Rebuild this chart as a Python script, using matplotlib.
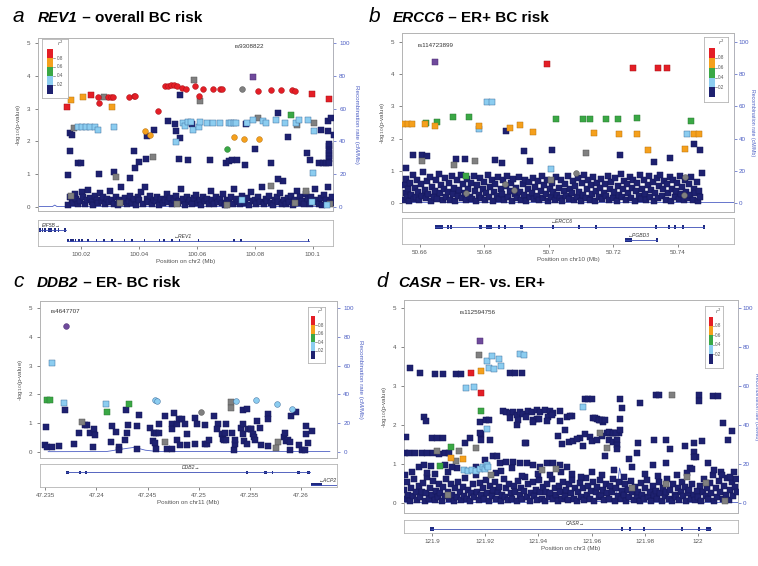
import matplotlib.pyplot as plt
from matplotlib.patches import Rectangle

plt.rcParams['font.family'] = ['Liberation Sans', 'DejaVu Sans']

NAVY = '#1e2170'
LBLUE = '#8ccdf0'
GREEN = '#3aa845'
ORANGE = '#f5a01c'
RED = '#e41e26'
GREY = '#808080'
PURPLE = '#6f4a9c'
REC = '#4d5fc4'
FRAME = '#b4b4b4'
TXT = '#555555'
EDGE = {NAVY: '#14165a', LBLUE: '#3f6f9f', GREEN: '#2a7a33', ORANGE: '#b87310',
        RED: '#a81218', GREY: '#555555', PURPLE: '#4a2d70'}

LD_BREAKS = ['0.2', '0.4', '0.6', '0.8']

# ---------------- panel a : REV1 (positions in Mb, -log10 p) ----------------
a_red_sq = [(100.0152, 3.05), (100.0232, 3.40), (100.0997, 3.45), (100.1055, 3.28)]
a_red_ci = [(100.0257, 3.35), (100.0260, 3.17), (100.0292, 3.35), (100.0301, 3.35), (100.0310, 3.35),
            (100.0365, 3.35), (100.0381, 3.37), (100.0387, 3.37), (100.0466, 2.94), (100.0489, 3.68),
            (100.0499, 3.70), (100.0509, 3.73), (100.0521, 3.71), (100.0532, 3.68), (100.0547, 3.63),
            (100.0562, 3.60), (100.0594, 3.70), (100.0606, 3.37), (100.0622, 3.60), (100.0656, 3.60),
            (100.0679, 3.60), (100.0687, 3.61), (100.0809, 3.54), (100.0857, 3.58), (100.0891, 3.58),
            (100.0928, 3.58), (100.0940, 3.55)]
a_orange_sq = [(100.0164, 3.26), (100.0205, 3.35), (100.0307, 3.05)]
a_orange_ci = [(100.0420, 2.31), (100.0438, 2.20), (100.0728, 2.12), (100.0762, 2.07), (100.0815, 2.07)]
a_green_ci = [(100.0703, 1.78)]
a_green_sq = [(100.0925, 2.80)]
a_lblue_sq = [(100.0190, 2.44), (100.0201, 2.44), (100.0215, 2.44), (100.0230, 2.44), (100.0247, 2.44),
              (100.0258, 2.34), (100.0314, 2.44), (100.0528, 1.98), (100.0553, 2.56), (100.0559, 2.46),
              (100.0570, 2.58), (100.0579, 2.58), (100.0587, 2.36), (100.0607, 2.43), (100.0609, 2.58),
              (100.0633, 2.56), (100.0656, 2.55), (100.0679, 2.55), (100.0711, 2.55), (100.0719, 2.55),
              (100.0727, 2.55), (100.0736, 2.55), (100.0773, 2.55), (100.0794, 2.66), (100.0828, 2.61),
              (100.0840, 2.55), (100.0874, 2.65), (100.0904, 2.55), (100.0943, 2.56), (100.0954, 2.64),
              (100.0983, 2.66), (100.1002, 1.04), (100.1006, 2.31), (100.0755, 0.20), (100.0998, 0.15),
              (100.1050, 0.06)]
a_grey_sq = [(100.0175, 2.40), (100.0280, 3.35), (100.0591, 3.88), (100.0610, 3.24), (100.0447, 1.52),
             (100.0320, 0.93), (100.0811, 2.71), (100.0946, 2.49), (100.1006, 2.57), (100.0857, 0.65),
             (100.0977, 0.48), (100.0165, 0.33), (100.0335, 0.12), (100.0530, 0.10), (100.0705, 0.05),
             (100.0940, 0.12), (100.1060, 0.08)]
a_grey_ci = [(100.0755, 3.60)]
a_purple_sq = [(100.0794, 3.96)]
a_navy_sq = [(100.0161, 1.70), (100.0155, 0.99), (100.0161, 2.26), (100.0166, 2.21), (100.0189, 1.34),
             (100.0200, 1.34), (100.0261, 1.02), (100.0312, 1.07), (100.0367, 0.88), (100.0383, 1.70),
             (100.0387, 1.19), (100.0398, 1.37), (100.0424, 1.46), (100.0427, 2.17), (100.0450, 2.34),
             (100.0501, 2.61), (100.0524, 2.54), (100.0528, 2.31), (100.0542, 2.10), (100.0542, 3.42),
             (100.0538, 1.46), (100.0567, 1.44), (100.0582, 2.54), (100.0645, 1.44), (100.0700, 1.34),
             (100.0710, 1.39), (100.0722, 1.44), (100.0739, 1.44), (100.0765, 1.29), (100.0768, 2.53),
             (100.0802, 1.78), (100.0857, 1.34), (100.0880, 2.87), (100.0897, 0.78), (100.0880, 0.86),
             (100.0914, 2.14), (100.0979, 1.66), (100.0991, 1.42), (100.1029, 2.36), (100.1052, 2.63),
             (100.1063, 2.70), (100.1052, 2.31), (100.1072, 2.18), (100.1055, 1.45), (100.1055, 1.55),
             (100.1055, 1.65), (100.1055, 1.75), (100.1055, 1.85), (100.1055, 1.92), (100.1023, 1.34),
             (100.1034, 1.34), (100.1046, 1.34), (100.1057, 1.34)]
a_navy_low = [(100.0155, 0.05), (100.0160, 0.30), (100.0166, 0.22), (100.0171, 0.12), (100.0177, 0.40),
              (100.0183, 0.25), (100.0190, 0.08), (100.0196, 0.18), (100.0201, 0.45), (100.0207, 0.30),
              (100.0213, 0.10), (100.0219, 0.20), (100.0224, 0.52), (100.0230, 0.28), (100.0236, 0.15),
              (100.0241, 0.05), (100.0247, 0.35), (100.0253, 0.22), (100.0259, 0.12), (100.0264, 0.42),
              (100.0270, 0.18), (100.0276, 0.30), (100.0282, 0.08), (100.0288, 0.25), (100.0294, 0.15),
              (100.0300, 0.48), (100.0306, 0.20), (100.0313, 0.10), (100.0319, 0.32), (100.0325, 0.05),
              (100.0331, 0.22), (100.0338, 0.60), (100.0344, 0.15), (100.0351, 0.28), (100.0357, 0.08),
              (100.0363, 0.18), (100.0369, 0.35), (100.0376, 0.12), (100.0382, 0.25), (100.0388, 0.05),
              (100.0395, 0.30), (100.0401, 0.20), (100.0407, 0.45), (100.0413, 0.10), (100.0419, 0.62),
              (100.0426, 0.25), (100.0432, 0.15), (100.0438, 0.35), (100.0444, 0.08), (100.0451, 0.22),
              (100.0457, 0.18), (100.0463, 0.30), (100.0470, 0.05), (100.0476, 0.25), (100.0482, 0.12),
              (100.0489, 0.20), (100.0495, 0.40), (100.0501, 0.15), (100.0508, 0.28), (100.0514, 0.08),
              (100.0520, 0.22), (100.0527, 0.35), (100.0533, 0.12), (100.0539, 0.18), (100.0546, 0.55),
              (100.0552, 0.25), (100.0558, 0.05), (100.0565, 0.30), (100.0571, 0.15), (100.0577, 0.20),
              (100.0584, 0.10), (100.0590, 0.28), (100.0596, 0.38), (100.0603, 0.12), (100.0609, 0.22),
              (100.0615, 0.05), (100.0622, 0.30), (100.0628, 0.18), (100.0634, 0.25), (100.0641, 0.10),
              (100.0647, 0.48), (100.0653, 0.20), (100.0660, 0.08), (100.0666, 0.32), (100.0672, 0.15),
              (100.0679, 0.25), (100.0685, 0.12), (100.0691, 0.40), (100.0698, 0.05), (100.0704, 0.22),
              (100.0710, 0.18), (100.0717, 0.30), (100.0723, 0.10), (100.0729, 0.55), (100.0736, 0.25),
              (100.0742, 0.15), (100.0748, 0.08), (100.0755, 0.35), (100.0761, 0.20), (100.0767, 0.12),
              (100.0774, 0.28), (100.0780, 0.05), (100.0786, 0.45), (100.0793, 0.18), (100.0799, 0.22),
              (100.0805, 0.10), (100.0812, 0.30), (100.0818, 0.15), (100.0824, 0.62), (100.0831, 0.08),
              (100.0837, 0.25), (100.0843, 0.18), (100.0850, 0.35), (100.0856, 0.12), (100.0862, 0.05),
              (100.0869, 0.22), (100.0875, 0.30), (100.0881, 0.15), (100.0888, 0.42), (100.0894, 0.10),
              (100.0900, 0.20), (100.0907, 0.08), (100.0913, 0.28), (100.0919, 0.15), (100.0926, 0.35),
              (100.0932, 0.05), (100.0938, 0.22), (100.0945, 0.50), (100.0951, 0.12), (100.0957, 0.30),
              (100.0964, 0.18), (100.0970, 0.10), (100.0976, 0.40), (100.0983, 0.25), (100.0989, 0.08),
              (100.0995, 0.32), (100.1002, 0.15), (100.1008, 0.55), (100.1014, 0.20), (100.1021, 0.10),
              (100.1027, 0.28), (100.1033, 0.05), (100.1040, 0.38), (100.1046, 0.22), (100.1052, 0.60),
              (100.1059, 0.15), (100.1065, 0.30), (100.1071, 0.12)]
a_rec = [(100.0050, 0.3), (100.0100, 0.3), (100.0108, 1.2), (100.0116, 0.3), (100.1075, 0.3)]
a_genes = [('EIF5B→', 100.0054, 100.0146, [(100.0057, 100.0057), (100.0066, 100.0066), (100.0075, 100.0075),
                                          (100.0087, 100.0087), (100.0096, 100.0096), (100.0110, 100.0110),
                                          (100.0121, 100.0121), (100.0139, 100.0146)], 100.0095),
           ('←REV1', 100.0152, 100.0986, [(100.0155, 100.0155), (100.0163, 100.0163), (100.0171, 100.0171),
                                         (100.0180, 100.0180), (100.0192, 100.0192), (100.0203, 100.0203),
                                         (100.0223, 100.0223), (100.0252, 100.0252), (100.0279, 100.0279),
                                         (100.0305, 100.0305), (100.0349, 100.0349), (100.0376, 100.0376),
                                         (100.0418, 100.0418), (100.0470, 100.0470), (100.0485, 100.0485),
                                         (100.0510, 100.0517), (100.0539, 100.0539), (100.0605, 100.0605),
                                         (100.0729, 100.0729), (100.0751, 100.0751), (100.0985, 100.0985)],
            100.0553)]

# ---------------- panel b : ERCC6 ----------------
b_purple_sq = [(50.6647, 4.39)]
b_red_sq = [(50.6995, 4.33), (50.7260, 4.18), (50.7338, 4.18), (50.7366, 4.18)]
b_lblue_sq = [(50.6807, 3.15), (50.6823, 3.15), (50.6783, 2.30), (50.7428, 2.13), (50.7005, 1.05)]
b_green_sq = [(50.6618, 2.48), (50.6654, 2.51), (50.6703, 2.68), (50.6752, 2.66), (50.7021, 2.62),
              (50.7105, 2.62), (50.7128, 2.62), (50.7178, 2.62), (50.7215, 2.62), (50.7273, 2.64),
              (50.7441, 2.54), (50.6743, 0.85)]
b_orange_sq = [(50.6548, 2.46), (50.6563, 2.46), (50.6575, 2.46), (50.6614, 2.46), (50.6647, 2.40),
               (50.6783, 2.38), (50.6880, 2.33), (50.6909, 2.43), (50.6950, 2.20), (50.7139, 2.17),
               (50.7216, 2.15), (50.7272, 2.13), (50.7308, 1.65), (50.7421, 1.67), (50.7451, 2.14),
               (50.7467, 2.14)]
b_grey_sq = [(50.6606, 1.29), (50.6706, 1.19), (50.6771, 1.30), (50.7114, 1.55), (50.7007, 0.70)]
b_grey_ci = [(50.7084, 0.93), (50.6865, 0.59), (50.6892, 0.40), (50.6742, 0.30), (50.7423, 0.80),
             (50.7420, 0.25)]
b_navy_sq = [(50.6577, 1.49), (50.6555, 1.09), (50.6606, 1.50), (50.6621, 1.45), (50.6711, 1.38),
             (50.6741, 1.37), (50.6834, 1.34), (50.6853, 1.24), (50.6866, 2.23), (50.6924, 1.63),
             (50.6942, 1.31), (50.7009, 1.66), (50.7221, 1.50), (50.7325, 1.27), (50.7375, 1.40),
             (50.7451, 1.83), (50.7469, 1.65)]
b_navy_low = [(50.6550, 0.10), (50.6552, 0.55), (50.6555, 0.30), (50.6558, 0.75), (50.6561, 0.18),
              (50.6564, 0.42), (50.6567, 0.05), (50.6570, 0.62), (50.6573, 0.25), (50.6577, 0.88),
              (50.6580, 0.12), (50.6583, 0.48), (50.6586, 0.20), (50.6590, 0.70), (50.6594, 0.35),
              (50.6598, 0.08), (50.6602, 0.58), (50.6606, 0.22), (50.6610, 0.95), (50.6614, 0.40),
              (50.6618, 0.15), (50.6622, 0.68), (50.6626, 0.28), (50.6630, 0.82), (50.6634, 0.05),
              (50.6638, 0.50), (50.6642, 0.20), (50.6646, 0.38), (50.6650, 0.72), (50.6654, 0.12),
              (50.6658, 0.90), (50.6662, 0.30), (50.6666, 0.55), (50.6670, 0.08), (50.6674, 0.45),
              (50.6678, 0.78), (50.6682, 0.18), (50.6686, 0.35), (50.6690, 0.62), (50.6694, 0.10),
              (50.6698, 0.85), (50.6702, 0.28), (50.6706, 0.48), (50.6710, 0.05), (50.6714, 0.70),
              (50.6718, 0.22), (50.6722, 0.40), (50.6726, 0.88), (50.6730, 0.15), (50.6734, 0.58),
              (50.6738, 0.32), (50.6742, 0.08), (50.6746, 0.75), (50.6750, 0.45), (50.6754, 0.20),
              (50.6758, 0.62), (50.6762, 0.12), (50.6766, 0.85), (50.6770, 0.38), (50.6774, 0.05),
              (50.6778, 0.55), (50.6782, 0.25), (50.6786, 0.78), (50.6790, 0.15), (50.6794, 0.42),
              (50.6798, 0.65), (50.6802, 0.08), (50.6806, 0.30), (50.6810, 0.88), (50.6814, 0.18),
              (50.6818, 0.50), (50.6822, 0.72), (50.6826, 0.05), (50.6830, 0.35), (50.6834, 0.60),
              (50.6838, 0.22), (50.6842, 0.82), (50.6846, 0.12), (50.6850, 0.45), (50.6854, 0.28),
              (50.6858, 0.70), (50.6862, 0.08), (50.6866, 0.52), (50.6870, 0.85), (50.6874, 0.18),
              (50.6878, 0.38), (50.6882, 0.62), (50.6886, 0.05), (50.6890, 0.75), (50.6894, 0.28),
              (50.6898, 0.48), (50.6902, 0.15), (50.6906, 0.80), (50.6910, 0.35), (50.6914, 0.10),
              (50.6918, 0.58), (50.6922, 0.25), (50.6926, 0.72), (50.6930, 0.05), (50.6934, 0.42),
              (50.6938, 0.65), (50.6942, 0.18), (50.6946, 0.30), (50.6950, 0.78), (50.6954, 0.12),
              (50.6958, 0.50), (50.6962, 0.22), (50.6966, 0.68), (50.6970, 0.08), (50.6974, 0.38),
              (50.6978, 0.85), (50.6982, 0.15), (50.6986, 0.55), (50.6990, 0.28), (50.6994, 0.72),
              (50.6998, 0.05), (50.7002, 0.45), (50.7006, 0.20), (50.7010, 0.62), (50.7014, 0.35),
              (50.7018, 0.10), (50.7022, 0.80), (50.7026, 0.25), (50.7030, 0.48), (50.7034, 0.15),
              (50.7038, 0.70), (50.7042, 0.05), (50.7046, 0.38), (50.7050, 0.58), (50.7054, 0.22),
              (50.7058, 0.85), (50.7062, 0.12), (50.7066, 0.45), (50.7070, 0.30), (50.7074, 0.68),
              (50.7078, 0.08), (50.7082, 0.52), (50.7086, 0.18), (50.7090, 0.78), (50.7094, 0.35),
              (50.7098, 0.05), (50.7102, 0.62), (50.7106, 0.25), (50.7110, 0.88), (50.7114, 0.15),
              (50.7118, 0.42), (50.7122, 0.70), (50.7126, 0.10), (50.7130, 0.55), (50.7134, 0.28),
              (50.7138, 0.80), (50.7142, 0.05), (50.7146, 0.38), (50.7150, 0.62), (50.7154, 0.18),
              (50.7158, 0.48), (50.7162, 0.75), (50.7166, 0.12), (50.7170, 0.32), (50.7174, 0.58),
              (50.7178, 0.22), (50.7182, 0.85), (50.7186, 0.08), (50.7190, 0.45), (50.7194, 0.65),
              (50.7198, 0.15), (50.7202, 0.35), (50.7206, 0.78), (50.7210, 0.05), (50.7214, 0.52),
              (50.7218, 0.25), (50.7222, 0.90), (50.7226, 0.18), (50.7230, 0.42), (50.7234, 0.68),
              (50.7238, 0.10), (50.7242, 0.58), (50.7246, 0.30), (50.7250, 0.82), (50.7254, 0.15),
              (50.7258, 0.48), (50.7262, 0.72), (50.7266, 0.05), (50.7270, 0.38), (50.7274, 0.62),
              (50.7278, 0.22), (50.7282, 0.88), (50.7286, 0.12), (50.7290, 0.45), (50.7294, 0.70),
              (50.7298, 0.28), (50.7302, 0.08), (50.7306, 0.55), (50.7310, 0.85), (50.7314, 0.18),
              (50.7318, 0.40), (50.7322, 0.65), (50.7326, 0.05), (50.7330, 0.30), (50.7334, 0.78),
              (50.7338, 0.15), (50.7342, 0.52), (50.7346, 0.88), (50.7350, 0.22), (50.7354, 0.42),
              (50.7358, 0.68), (50.7362, 0.10), (50.7366, 0.58), (50.7370, 0.32), (50.7374, 0.80),
              (50.7378, 0.05), (50.7382, 0.45), (50.7386, 0.72), (50.7390, 0.18), (50.7394, 0.38),
              (50.7398, 0.62), (50.7402, 0.12), (50.7406, 0.85), (50.7410, 0.28), (50.7414, 0.50),
              (50.7418, 0.08), (50.7422, 0.70), (50.7426, 0.35), (50.7430, 0.15), (50.7434, 0.58),
              (50.7438, 0.25), (50.7442, 0.82), (50.7446, 0.10), (50.7450, 0.45), (50.7454, 0.30),
              (50.7458, 0.65), (50.7462, 0.05), (50.7466, 0.38), (50.7470, 0.20), (50.7474, 0.92)]
b_rec = [(50.6544, 0.3), (50.6640, 0.4), (50.6658, 2.5), (50.6668, 1.0), (50.6680, 0.3), (50.7574, 0.3)]
b_genes = [('←ERCC6', 50.6647, 50.7480, [(50.6647, 50.6672), (50.6688, 50.6688), (50.6695, 50.6695),
                                        (50.6783, 50.6791), (50.6805, 50.6823), (50.6845, 50.6845),
                                        (50.6865, 50.6865), (50.6911, 50.6918), (50.7014, 50.7014),
                                        (50.7092, 50.7092), (50.7146, 50.7146), (50.7330, 50.7335),
                                        (50.7371, 50.7371), (50.7392, 50.7392), (50.7415, 50.7415),
                                        (50.7480, 50.7480)], 50.7040),
           ('←PGBD3', 50.7237, 50.7335, [(50.7237, 50.7257), (50.7335, 50.7335)], 50.7280)]

# ---------------- panel c : DDB2 ----------------
c_purple_ci = [(47.2370, 4.36)]
c_lblue_sq = [(47.2357, 3.10), (47.2368, 1.71), (47.2409, 1.66)]
c_lblue_ci = [(47.2457, 1.82), (47.2459, 1.77), (47.2536, 1.77), (47.2556, 1.79), (47.2576, 1.67),
              (47.2591, 1.50)]
c_green_sq = [(47.2352, 1.79), (47.2355, 1.79), (47.2410, 1.38), (47.2432, 1.67)]
c_grey_sq = [(47.2386, 1.03), (47.2531, 1.74), (47.2531, 1.54), (47.2467, 0.36), (47.2577, 0.34),
             (47.2575, 0.15)]
c_grey_ci = [(47.2502, 1.39)]
c_navy_sq = [(47.2369, 1.45), (47.2351, 0.87), (47.2350, 0.25), (47.2352, 0.17), (47.2357, 0.17),
             (47.2364, 0.21), (47.2378, 0.27), (47.2383, 0.67), (47.2389, 0.95), (47.2391, 0.95),
             (47.2394, 0.66), (47.2398, 0.79), (47.2399, 0.58), (47.2397, 0.17), (47.2415, 0.90),
             (47.2414, 0.35), (47.2419, 0.71), (47.2422, 0.17), (47.2422, 0.06), (47.2429, 1.45),
             (47.2430, 0.66), (47.2431, 0.95), (47.2428, 0.43), (47.2440, 0.89), (47.2442, 1.27),
             (47.2440, 0.12), (47.2452, 0.82), (47.2455, 0.38), (47.2457, 0.31), (47.2458, 0.12),
             (47.2456, 0.67), (47.2458, 0.67), (47.2461, 0.66), (47.2461, 0.96), (47.2467, 1.25),
             (47.2469, 0.12), (47.2474, 0.12), (47.2474, 0.98), (47.2474, 0.78), (47.2476, 1.35),
             (47.2479, 0.96), (47.2479, 0.40), (47.2481, 1.16), (47.2484, 1.16), (47.2482, 0.25),
             (47.2487, 0.98), (47.2489, 0.61), (47.2489, 0.23), (47.2496, 1.19), (47.2496, 0.29),
             (47.2498, 0.96), (47.2506, 0.93), (47.2506, 0.27), (47.2508, 0.29), (47.2510, 0.40),
             (47.2515, 1.25), (47.2519, 0.96), (47.2518, 0.78), (47.2523, 0.61), (47.2524, 0.46),
             (47.2525, 0.40), (47.2527, 0.96), (47.2527, 0.40), (47.2526, 0.67), (47.2532, 0.67),
             (47.2534, 0.06), (47.2535, 0.27), (47.2535, 0.40), (47.2541, 0.84), (47.2543, 1.45),
             (47.2543, 0.96), (47.2543, 0.64), (47.2544, 0.38), (47.2547, 0.29), (47.2547, 1.50),
             (47.2548, 0.81), (47.2551, 0.81), (47.2551, 0.78), (47.2553, 0.64), (47.2554, 0.52),
             (47.2555, 0.40), (47.2557, 1.08), (47.2560, 0.83), (47.2561, 0.25), (47.2568, 1.31),
             (47.2568, 1.13), (47.2568, 0.21), (47.2583, 0.52), (47.2584, 0.66), (47.2585, 0.38),
             (47.2587, 0.40), (47.2589, 0.35), (47.2589, 0.06), (47.2590, 1.25), (47.2595, 1.40),
             (47.2598, 0.25), (47.2601, 0.08), (47.2604, 0.06), (47.2605, 0.90), (47.2605, 0.61),
             (47.2607, 0.32), (47.2611, 0.72)]
c_rec = [(47.2353, 0.2), (47.2410, 0.3), (47.2425, 2.0), (47.2437, 3.2), (47.2448, 1.2), (47.2460, 0.3),
         (47.2628, 0.3)]
c_genes = [('DDB2→', 47.2370, 47.2609, [(47.2370, 47.2373), (47.2384, 47.2384), (47.2390, 47.2390),
                                       (47.2547, 47.2547), (47.2564, 47.2567), (47.2572, 47.2572),
                                       (47.2596, 47.2599), (47.2606, 47.2609)], 47.2492),
           ('←ACP2', 47.2610, 47.2640, [(47.2610, 47.2620)], 47.2626)]

# ---------------- panel d : CASR ----------------
d_purple_sq = [(121.9180, 4.14)]
d_red_sq = [(121.9146, 3.34), (121.9186, 2.81)]
d_orange_sq = [(121.9186, 3.39), (121.9073, 1.15), (121.9117, 1.12)]
d_green_sq = [(121.9186, 2.37), (121.9070, 1.45), (121.9029, 0.95)]
d_lblue_sq = [(121.9207, 3.64), (121.9225, 3.76), (121.9252, 3.70), (121.9215, 3.45), (121.9235, 3.43),
              (121.9261, 3.51), (121.9330, 3.83), (121.9345, 3.80), (121.9127, 2.96), (121.9158, 2.98),
              (121.9205, 1.91), (121.9569, 2.47), (121.9120, 0.85), (121.9135, 0.83), (121.9150, 0.86),
              (121.9165, 0.83), (121.9180, 0.87), (121.9190, 0.92), (121.9200, 0.88), (121.9205, 0.98),
              (121.9212, 0.92)]
d_grey_sq = [(121.9177, 3.80), (121.9166, 1.41), (121.9102, 1.34), (121.9092, 1.08), (121.9020, 1.34),
             (121.9632, 1.81), (121.9657, 1.41), (121.9902, 2.77), (121.9465, 0.88), (121.9415, 0.85),
             (121.9960, 0.68), (122.0030, 0.53), (121.9878, 0.50), (121.9750, 0.38), (121.9060, 0.20),
             (121.9220, 0.72), (122.0100, 0.05)]
d_navy_sq = [(121.8916, 3.45), (121.8956, 3.34), (121.9010, 3.30), (121.9041, 3.30), (121.9092, 3.30),
             (121.9108, 3.30), (121.9293, 3.34), (121.9311, 3.34), (121.9337, 3.34), (121.8969, 2.20),
             (121.8976, 2.11), (121.9180, 2.08), (121.9202, 2.13), (121.9215, 2.13), (121.9186, 1.77),
             (121.9268, 2.36), (121.9278, 2.33), (121.9293, 2.30), (121.9306, 2.34), (121.9318, 2.27),
             (121.9331, 2.33), (121.9343, 2.29), (121.9360, 2.36), (121.9375, 2.33), (121.9393, 2.38),
             (121.9406, 2.33), (121.9424, 2.39), (121.9443, 2.36), (121.9456, 2.31), (121.9481, 2.35),
             (121.9293, 2.18), (121.9324, 2.13), (121.9355, 2.20), (121.9381, 2.13), (121.9393, 2.15),
             (121.9437, 2.20), (121.9450, 2.25), (121.9506, 2.20), (121.9318, 2.00), (121.9355, 1.53),
             (121.9500, 1.87), (121.9475, 1.72), (121.9431, 2.11), (121.9349, 1.53), (121.9378, 2.09),
             (121.9403, 2.15), (121.9481, 2.11), (121.9487, 1.51), (121.9515, 1.56), (121.9531, 1.60),
             (121.9557, 1.66), (121.9575, 1.76), (121.9525, 2.24), (121.9607, 2.17), (121.9619, 2.15),
             (121.9632, 2.12), (121.9644, 2.09), (121.9594, 1.70), (121.9603, 1.59), (121.9619, 1.62),
             (121.9638, 1.73), (121.9657, 1.80), (121.9670, 1.80), (121.9682, 1.80), (121.9701, 1.80),
             (121.9705, 2.15), (121.9714, 2.43), (121.9707, 2.68), (121.8903, 1.70), (121.8897, 1.29),
             (121.8912, 1.29), (121.8937, 1.29), (121.8962, 1.29), (121.8981, 1.29), (121.9004, 1.29),
             (121.9026, 1.27), (121.9048, 1.29), (121.9064, 1.29), (121.9000, 1.68), (121.9020, 1.68),
             (121.9042, 1.66), (121.9142, 1.66), (121.9123, 1.53), (121.9180, 1.81), (121.9186, 1.62),
             (121.9217, 1.62), (121.8950, 0.92), (121.8970, 0.98), (121.8998, 0.96), (121.9050, 0.98),
             (121.9095, 0.90), (121.9167, 0.94), (121.9200, 1.10), (121.9230, 1.20), (121.9245, 1.22),
             (121.9255, 1.02), (121.9280, 1.06), (121.9306, 1.06), (121.9331, 1.04), (121.9356, 1.03),
             (121.9381, 0.98), (121.9406, 0.94), (121.9431, 1.02), (121.9456, 1.02), (121.9481, 0.98),
             (121.9506, 0.94), (121.9575, 2.67), (121.9588, 2.67), (121.9601, 2.66), (121.9783, 2.57),
             (121.9842, 2.77), (121.9852, 2.77), (122.0005, 2.77), (122.0005, 2.61), (122.0057, 2.74),
             (122.0075, 2.74), (122.0094, 2.06), (122.0128, 1.86), (122.0113, 1.62), (121.9613, 2.19),
             (121.9626, 2.14), (121.9638, 2.13), (121.9651, 2.13), (121.9519, 2.23), (121.9667, 1.83),
             (121.9680, 1.79), (121.9692, 1.79), (121.9705, 1.87), (121.9667, 1.62), (121.9682, 1.58),
             (121.9695, 1.62), (121.9569, 1.46), (121.9544, 1.64), (121.9651, 1.21), (121.9695, 1.49),
             (121.9695, 1.40), (121.9776, 1.53), (121.9770, 1.29), (121.9836, 1.62), (121.9880, 1.63),
             (121.9896, 1.39), (121.9952, 1.47), (121.9986, 1.55), (122.0013, 1.60), (121.9986, 1.30),
             (121.9994, 1.19), (121.9984, 1.19), (122.0036, 1.04), (121.9971, 0.89), (121.9739, 1.12),
             (121.9751, 0.94), (121.9831, 0.98), (121.9879, 1.04), (121.9977, 0.88), (121.8900, 0.72),
             (121.8925, 0.80), (121.8980, 0.78), (121.9010, 0.75), (121.9060, 0.80), (121.9075, 0.92),
             (121.9240, 0.78), (121.9260, 0.82), (121.9300, 0.90), (121.9340, 0.70), (121.9400, 0.75),
             (121.9445, 0.72), (121.9485, 0.80), (121.9525, 0.75), (121.9560, 0.68), (121.9600, 0.80),
             (121.9640, 0.72), (121.9685, 0.85), (121.9720, 0.68), (121.9800, 0.75), (121.9850, 0.70),
             (121.9920, 0.73), (121.9960, 0.78), (122.0060, 0.85), (122.0090, 0.72), (122.0120, 0.68),
             (122.0135, 0.80)]
d_navy_low = [(121.8895, 0.35), (121.8900, 0.12), (121.8906, 0.55), (121.8911, 0.22), (121.8917, 0.05),
              (121.8922, 0.40), (121.8928, 0.18), (121.8933, 0.62), (121.8939, 0.28), (121.8944, 0.08),
              (121.8950, 0.45), (121.8955, 0.15), (121.8961, 0.30), (121.8966, 0.52), (121.8972, 0.05),
              (121.8977, 0.25), (121.8983, 0.68), (121.8988, 0.12), (121.8994, 0.38), (121.8999, 0.20),
              (121.9005, 0.58), (121.9010, 0.08), (121.9016, 0.32), (121.9021, 0.15), (121.9027, 0.48),
              (121.9032, 0.25), (121.9038, 0.05), (121.9043, 0.42), (121.9049, 0.18), (121.9054, 0.62),
              (121.9060, 0.30), (121.9065, 0.10), (121.9071, 0.50), (121.9076, 0.22), (121.9082, 0.05),
              (121.9087, 0.38), (121.9093, 0.15), (121.9098, 0.55), (121.9104, 0.28), (121.9109, 0.08),
              (121.9115, 0.42), (121.9120, 0.18), (121.9126, 0.65), (121.9131, 0.12), (121.9137, 0.35),
              (121.9142, 0.05), (121.9148, 0.25), (121.9153, 0.48), (121.9159, 0.15), (121.9164, 0.72),
              (121.9170, 0.30), (121.9175, 0.08), (121.9181, 0.52), (121.9186, 0.20), (121.9192, 0.40),
              (121.9197, 0.12), (121.9203, 0.60), (121.9208, 0.25), (121.9214, 0.05), (121.9219, 0.45),
              (121.9225, 0.18), (121.9230, 0.35), (121.9236, 0.55), (121.9241, 0.10), (121.9247, 0.28),
              (121.9252, 0.42), (121.9258, 0.05), (121.9263, 0.22), (121.9269, 0.62), (121.9274, 0.15),
              (121.9280, 0.38), (121.9285, 0.08), (121.9291, 0.50), (121.9296, 0.25), (121.9302, 0.12),
              (121.9307, 0.45), (121.9313, 0.30), (121.9318, 0.05), (121.9324, 0.58), (121.9329, 0.20),
              (121.9335, 0.40), (121.9340, 0.10), (121.9346, 0.32), (121.9351, 0.68), (121.9357, 0.15),
              (121.9362, 0.48), (121.9368, 0.05), (121.9373, 0.25), (121.9379, 0.55), (121.9384, 0.18),
              (121.9390, 0.35), (121.9395, 0.08), (121.9401, 0.60), (121.9406, 0.28), (121.9412, 0.12),
              (121.9417, 0.42), (121.9423, 0.05), (121.9428, 0.30), (121.9434, 0.50), (121.9439, 0.15),
              (121.9445, 0.25), (121.9450, 0.62), (121.9456, 0.10), (121.9461, 0.38), (121.9467, 0.20),
              (121.9472, 0.05), (121.9478, 0.45), (121.9483, 0.28), (121.9489, 0.12), (121.9494, 0.55),
              (121.9500, 0.18), (121.9505, 0.35), (121.9511, 0.08), (121.9516, 0.48), (121.9522, 0.25),
              (121.9527, 0.60), (121.9533, 0.12), (121.9538, 0.40), (121.9544, 0.05), (121.9549, 0.30),
              (121.9555, 0.52), (121.9560, 0.15), (121.9566, 0.38), (121.9571, 0.08), (121.9577, 0.65),
              (121.9582, 0.22), (121.9588, 0.45), (121.9593, 0.10), (121.9599, 0.32), (121.9604, 0.55),
              (121.9610, 0.05), (121.9615, 0.28), (121.9621, 0.42), (121.9626, 0.15), (121.9632, 0.60),
              (121.9637, 0.20), (121.9643, 0.35), (121.9648, 0.08), (121.9654, 0.50), (121.9659, 0.25),
              (121.9665, 0.12), (121.9670, 0.45), (121.9676, 0.30), (121.9681, 0.62), (121.9687, 0.05),
              (121.9692, 0.38), (121.9698, 0.18), (121.9703, 0.55), (121.9709, 0.10), (121.9714, 0.32),
              (121.9720, 0.22), (121.9725, 0.48), (121.9731, 0.05), (121.9736, 0.35), (121.9742, 0.15),
              (121.9747, 0.58), (121.9753, 0.28), (121.9758, 0.08), (121.9764, 0.42), (121.9769, 0.18),
              (121.9775, 0.30), (121.9780, 0.05), (121.9786, 0.52), (121.9791, 0.22), (121.9797, 0.12),
              (121.9802, 0.38), (121.9808, 0.60), (121.9813, 0.15), (121.9819, 0.28), (121.9824, 0.05),
              (121.9830, 0.45), (121.9835, 0.20), (121.9841, 0.32), (121.9846, 0.10), (121.9852, 0.55),
              (121.9857, 0.25), (121.9863, 0.05), (121.9868, 0.40), (121.9874, 0.18), (121.9879, 0.30),
              (121.9885, 0.62), (121.9890, 0.12), (121.9896, 0.35), (121.9901, 0.05), (121.9907, 0.48),
              (121.9912, 0.22), (121.9918, 0.15), (121.9923, 0.38), (121.9929, 0.08), (121.9934, 0.28),
              (121.9940, 0.55), (121.9945, 0.18), (121.9951, 0.42), (121.9956, 0.05), (121.9962, 0.25),
              (121.9967, 0.35), (121.9973, 0.12), (121.9978, 0.50), (121.9984, 0.20), (121.9989, 0.08),
              (121.9995, 0.32), (122.0000, 0.15), (122.0006, 0.45), (122.0011, 0.05), (122.0017, 0.28),
              (122.0022, 0.62), (122.0028, 0.18), (122.0033, 0.38), (122.0039, 0.10), (122.0044, 0.52),
              (122.0050, 0.25), (122.0055, 0.72), (122.0061, 0.05), (122.0066, 0.40), (122.0072, 0.15),
              (122.0077, 0.58), (122.0083, 0.30), (122.0088, 0.80), (122.0094, 0.12), (122.0099, 0.45),
              (122.0105, 0.22), (122.0110, 0.65), (122.0116, 0.08), (122.0121, 0.35), (122.0127, 0.55),
              (122.0132, 0.18), (122.0138, 0.42), (122.0143, 0.62), (122.0148, 0.28)]
d_rec = [(121.8895, 0.3), (121.9100, 0.4), (121.9300, 0.3), (121.9450, 0.8), (121.9500, 1.2),
         (121.9600, 1.0), (121.9690, 0.6), (121.9705, 18.0), (121.9735, 1.0), (121.9800, 0.5),
         (122.0150, 0.4)]
d_genes = [('CASR→', 121.8997, 122.0049, [(121.8997, 121.8997), (121.9004, 121.9004), (121.9716, 121.9716),
                                          (121.9745, 121.9745), (121.9793, 121.9799), (121.9940, 121.9940),
                                          (122.0003, 122.0003), (122.0028, 122.0049)], 121.9538)]

fig = plt.figure(figsize=(7.58, 5.66), dpi=100)
renderer = fig.canvas.get_renderer()


def draw_panel(main_rect, gene_rect, xlim, ylim, layers, rec, xticks, xticklabels, xlabel,
               snp_name, snp_xy, leg_rect, genes, rows, exon_h, tight_right=False):
    ax = fig.add_axes(main_rect)
    ax2 = ax.twinx()
    ax.set_zorder(ax2.get_zorder() + 1)
    ax.patch.set_visible(False)

    rx, ry = zip(*rec)
    ax2.plot(rx, ry, color=REC, lw=0.6)
    ax2.set_ylim(ylim[0] * 20, ylim[1] * 20)
    ax2.set_yticks(range(0, 101, 20))
    ax2.tick_params(labelsize=4.5, colors=REC, length=2, width=0.5, pad=1.5 if tight_right else 2.5)
    ax2.set_ylabel('Recombination rate (cM/Mb)', fontsize=3.8 if tight_right else 4.5, color=REC,
                   rotation=270, va='bottom', labelpad=0.5 if tight_right else 3)

    for pts, col, mk in layers:
        xs, ys = zip(*pts)
        ax.scatter(xs, ys, s=15 if mk == 's' else 17, c=col, marker=mk,
                   edgecolors=EDGE[col], linewidths=0.35, zorder=3)

    ax.set_xlim(xlim)
    ax.set_ylim(ylim)
    ax.set_xticks([])
    ax.set_yticks(range(6))
    ax.tick_params(labelsize=4.5, colors=TXT, length=2, width=0.5)
    ax.set_ylabel('-log$_{10}$(p-value)', fontsize=4.5, color=TXT, labelpad=3)
    for a in (ax, ax2):
        for sp in a.spines.values():
            sp.set_color(FRAME)
            sp.set_linewidth(0.6)
    ax2.spines['right'].set_color('#9aa3dd')

    ax.text(snp_xy[0], snp_xy[1], snp_name, fontsize=4.5, ha='center', va='center', color='#333333')

    # r^2 legend
    lg = ax.inset_axes(leg_rect)
    lg.set_xlim(0, 1)
    lg.set_ylim(0, 1)
    lg.set_xticks([])
    lg.set_yticks([])
    for sp in lg.spines.values():
        sp.set_color(FRAME)
        sp.set_linewidth(0.6)
    bot, top = 0.07, 0.83
    h = (top - bot) / 5
    for i, col in enumerate([NAVY, LBLUE, GREEN, ORANGE, RED]):
        lg.add_patch(Rectangle((0.2, bot + i * h), 0.24, h, facecolor=col, edgecolor='none'))
    for i, lab in enumerate(LD_BREAKS):
        yy = bot + (i + 1) * h
        lg.plot([0.44, 0.52], [yy, yy], color=TXT, lw=0.4)
        lg.text(0.56, yy, lab, fontsize=3.3, va='center', color=TXT)
    lg.text(0.72, 0.92, '$r^2$', fontsize=4, ha='center', va='center', color=TXT)

    # gene track
    g = fig.add_axes(gene_rect)
    g.set_xlim(xlim)
    g.set_ylim(0, 1)
    g.set_yticks([])
    g.set_xticks(xticks)
    g.set_xticklabels(xticklabels)
    g.tick_params(axis='x', labelsize=4.5, colors=TXT, length=2.5, width=0.5, pad=2)
    g.set_xlabel(xlabel, fontsize=4.5, color=TXT, labelpad=1.5)
    for sp in g.spines.values():
        sp.set_color(FRAME)
        sp.set_linewidth(0.6)
    span = xlim[1] - xlim[0]
    minw = 0.006 * span
    for (name, start, end, exons, lab_x), (ly, ty) in zip(genes, rows):
        g.plot([start, end], [ly, ly], color='#3a4cb5', lw=0.6)
        for e0, e1 in exons:
            w = max(e1 - e0, minw)
            c = (e0 + e1) / 2
            g.add_patch(Rectangle((c - w / 2, ly - exon_h / 2), w, exon_h,
                                  facecolor='#1f2a80', edgecolor='none'))
        g.text(lab_x, ty, name, fontsize=3.6, style='italic', ha='center', va='center', color='#333333')
    return ax


def panel_title(x_letter, x_gene, y, letter, gene, rest):
    fig.text(x_letter, y, letter, fontsize=15, style='italic')
    t = fig.text(x_gene, y, gene, fontsize=11, weight='bold', style='italic')
    bb = t.get_window_extent(renderer)
    fig.text(bb.x1 / fig.bbox.width, y, rest, fontsize=11, weight='bold')


draw_panel([0.0501, 0.6272, 0.3892, 0.3057], [0.0501, 0.5654, 0.3892, 0.0459],
           (100.0050, 100.1070), (-0.12, 5.15),
           [(a_navy_low, NAVY, 's'), (a_navy_sq, NAVY, 's'), (a_grey_sq, GREY, 's'), (a_grey_ci, GREY, 'o'),
            (a_lblue_sq, LBLUE, 's'), (a_green_sq, GREEN, 's'), (a_green_ci, GREEN, 'o'),
            (a_orange_sq, ORANGE, 's'), (a_orange_ci, ORANGE, 'o'), (a_red_sq, RED, 's'),
            (a_red_ci, RED, 'o'), (a_purple_sq, PURPLE, 's')],
           a_rec, [100.02, 100.04, 100.06, 100.08, 100.1],
           ['100.02', '100.04', '100.06', '100.08', '100.1'], 'Position on chr2 (Mb)',
           'rs9308822', (100.0782, 4.90), [0.0136, 0.653, 0.088, 0.341], a_genes,
           [(0.62, 0.80), (0.20, 0.37)], 0.13)

draw_panel([0.5303, 0.6254, 0.4380, 0.3163], [0.5303, 0.5689, 0.4380, 0.0459],
           (50.6544, 50.7574), (-0.28, 5.28),
           [(b_navy_low, NAVY, 's'), (b_navy_sq, NAVY, 's'), (b_grey_sq, GREY, 's'), (b_grey_ci, GREY, 'o'),
            (b_lblue_sq, LBLUE, 's'), (b_green_sq, GREEN, 's'), (b_orange_sq, ORANGE, 's'),
            (b_red_sq, RED, 's'), (b_purple_sq, PURPLE, 's')],
           b_rec, [50.66, 50.68, 50.70, 50.72, 50.74],
           ['50.66', '50.68', '50.7', '50.72', '50.74'], 'Position on chr10 (Mb)',
           'rs114723899', (50.6647, 4.90), [0.910, 0.615, 0.072, 0.363], b_genes,
           [(0.65, 0.86), (0.15, 0.33)], 0.13, tight_right=True)

draw_panel([0.0528, 0.1908, 0.3918, 0.2774], [0.0528, 0.1396, 0.3918, 0.0406],
           (47.2345, 47.2635), (-0.21, 5.24),
           [(c_navy_sq, NAVY, 's'), (c_grey_sq, GREY, 's'), (c_grey_ci, GREY, 'o'),
            (c_lblue_sq, LBLUE, 's'), (c_lblue_ci, LBLUE, 'o'), (c_green_sq, GREEN, 's'),
            (c_purple_ci, PURPLE, 'o')],
           c_rec, [47.235, 47.24, 47.245, 47.25, 47.255, 47.26],
           ['47.235', '47.24', '47.245', '47.25', '47.255', '47.26'], 'Position on chr11 (Mb)',
           'rs4647707', (47.2370, 4.88), [0.902, 0.605, 0.057, 0.357], c_genes,
           [(0.64, 0.83), (0.10, 0.28)], 0.15)

draw_panel([0.5330, 0.0936, 0.4406, 0.3763], [0.5330, 0.0583, 0.4406, 0.0230],
           (121.8895, 122.0150), (-0.25, 5.20),
           [(d_navy_low, NAVY, 's'), (d_navy_sq, NAVY, 's'), (d_grey_sq, GREY, 's'),
            (d_lblue_sq, LBLUE, 's'), (d_green_sq, GREEN, 's'), (d_orange_sq, ORANGE, 's'),
            (d_red_sq, RED, 's'), (d_purple_sq, PURPLE, 's')],
           d_rec, [121.90, 121.92, 121.94, 121.96, 121.98, 122.00],
           ['121.9', '121.92', '121.94', '121.96', '121.98', '122'], 'Position on chr3 (Mb)',
           'rs112594756', (121.9173, 4.88), [0.901, 0.681, 0.054, 0.291], d_genes,
           [(0.30, 0.70)], 0.25, tight_right=True)

panel_title(0.016, 0.050, 0.961, 'a', 'REV1', ' – overall BC risk')
panel_title(0.487, 0.518, 0.961, 'b', 'ERCC6', ' – ER+ BC risk')
panel_title(0.017, 0.049, 0.493, 'c', 'DDB2', ' – ER- BC risk')
panel_title(0.497, 0.526, 0.493, 'd', 'CASR', ' – ER- vs. ER+')

fig.savefig('out.png', dpi=100, facecolor='white')
